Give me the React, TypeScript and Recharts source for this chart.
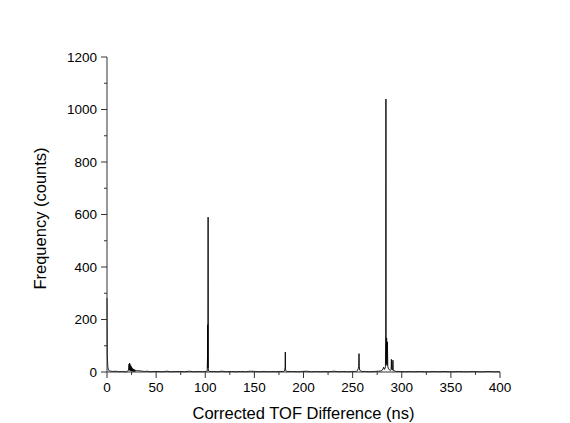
import { LineChart, Line, XAxis, YAxis, Label } from 'recharts'

// histogram of corrected TOF differences (ns, counts)
const zeroTof = [0, 0.3, 0.8, 1.5, 2.5, 4, 6, 9, 12, 15, 18]
const zeroCounts = [282, 70, 20, 8, 4, 3, 2, 3, 1, 2, 1]

const bumpTof = [20, 21, 22, 22.4, 22.7, 23, 23.3, 23.6, 23.9, 24.2, 24.5, 24.8, 25.1, 25.4, 25.8, 26.2, 26.6, 27, 27.5, 28, 28.5, 29, 30, 31, 32, 34, 36, 38, 41, 44, 47]
const bumpCounts = [1, 3, 8, 30, 6, 34, 10, 28, 5, 24, 4, 20, 3, 16, 2, 13, 2, 11, 1, 9, 2, 7, 6, 5, 5, 4, 3, 2, 3, 1, 2]

const noiseTof = [52, 56, 61, 65, 70, 74, 79, 84, 88, 93, 97, 99]
const noiseCounts = [2, 1, 3, 1, 2, 2, 1, 3, 1, 2, 1, 2]

const peak103Tof = [101, 102, 102.3, 102.5, 102.7, 102.9, 103.1, 103.4, 104]
const peak103Counts = [2, 3, 60, 180, 15, 590, 12, 4, 2]

const noise2Tof = [108, 112, 117, 122, 127, 131, 136, 141, 146, 151, 155, 160, 165, 169, 173, 176]
const noise2Counts = [2, 1, 3, 1, 2, 1, 2, 1, 3, 2, 1, 2, 1, 2, 1, 2]

const peak181Tof = [179.5, 180.5, 181, 181.3, 181.5, 181.7, 182, 183]
const peak181Counts = [2, 4, 10, 18, 76, 12, 5, 2]

const midNoiseTof = [189, 194, 198, 203, 208, 212, 217, 222, 226, 231, 236, 240, 245, 249, 252]
const midNoiseCounts = [2, 1, 2, 3, 1, 2, 1, 2, 1, 3, 1, 2, 1, 2, 2]

const peak257Tof = [254, 255, 255.8, 256.2, 256.5, 256.8, 257.2, 258, 259.5]
const peak257Counts = [3, 6, 14, 22, 70, 20, 8, 4, 2]

const peak284Tof = [263, 267, 272, 276, 279, 280.5, 281.5, 282.5, 283.4, 283.7, 283.9, 284.1, 284.6, 285, 285.4, 285.8, 286.5, 287.5, 288.5, 289.2, 289.5, 289.8, 290.7, 291, 291.3, 292, 293.5, 295]
const peak284Counts = [2, 1, 2, 3, 4, 8, 18, 10, 20, 140, 1040, 30, 130, 25, 115, 20, 12, 8, 6, 10, 48, 10, 8, 45, 8, 4, 3, 2]

const tailTof = [299, 304, 309, 313, 318, 323, 328, 333, 338, 343, 348, 353, 358, 363, 368, 373, 378, 383, 388, 393, 398, 400]
const tailCounts = [2, 1, 2, 1, 2, 1, 1, 2, 1, 2, 1, 1, 2, 1, 1, 2, 1, 1, 2, 1, 1, 1]

const xTicks = [0, 25, 50, 75, 100, 125, 150, 175, 200, 225, 250, 275, 300, 325, 350, 375, 400]
const yTicks = [0, 100, 200, 300, 400, 500, 600, 700, 800, 900, 1000, 1100, 1200]

const tofSets = [zeroTof, bumpTof, noiseTof, peak103Tof, noise2Tof, peak181Tof, midNoiseTof, peak257Tof, peak284Tof, tailTof]
const countSets = [zeroCounts, bumpCounts, noiseCounts, peak103Counts, noise2Counts, peak181Counts, midNoiseCounts, peak257Counts, peak284Counts, tailCounts]

const data = tofSets
  .flatMap((xs, i) => xs.map((tof, j) => ({ tof, count: countSets[i][j] })))
  .sort((a, b) => a.tof - b.tof)

const FONT = 'Arial, "Liberation Sans", sans-serif'
const AXIS = '#333'

function XTick({ x, y, payload }: any) {
  const major = payload.value % 50 === 0
  return (
    <g>
      <line x1={x} x2={x} y1={y} y2={y + (major ? 6 : 3)} stroke={AXIS} strokeWidth={1} />
      {major && (
        <text x={x} y={y + 20} textAnchor="middle" fontSize={13.5} fontFamily={FONT} fill="#000">
          {payload.value}
        </text>
      )}
    </g>
  )
}

function YTick({ x, y, payload }: any) {
  const major = payload.value % 200 === 0
  return (
    <g>
      <line x1={x} x2={x - (major ? 6 : 3)} y1={y} y2={y} stroke={AXIS} strokeWidth={1} />
      {major && (
        <text x={x - 10} y={y} dy="0.35em" textAnchor="end" fontSize={13.5} fontFamily={FONT} fill="#000">
          {payload.value}
        </text>
      )}
    </g>
  )
}

export default function App() {
  return (
    <div style={{ position: 'absolute', left: 0, top: 0, width: 570, height: 423, background: '#fff' }}>
      <LineChart width={570} height={423} data={data} margin={{ top: 57, right: 70, bottom: 1, left: 47 }}>
        <XAxis
          dataKey="tof"
          type="number"
          domain={[0, 400]}
          ticks={xTicks}
          interval={0}
          tickSize={0}
          tickMargin={0}
          tickLine={false}
          tick={<XTick />}
          height={50}
          stroke={AXIS}
        >
          <Label
            value="Corrected TOF Difference (ns)"
            position="insideBottom"
            offset={3}
            style={{ fontSize: 16.5, fontFamily: FONT, fill: '#000' }}
          />
        </XAxis>
        <YAxis
          type="number"
          domain={[0, 1200]}
          ticks={yTicks}
          interval={0}
          tickSize={0}
          tickMargin={0}
          tickLine={false}
          tick={<YTick />}
          width={60}
          stroke={AXIS}
        >
          <Label
            value="Frequency (counts)"
            angle={-90}
            position="insideLeft"
            offset={-7}
            dy={4}
            style={{ fontSize: 16.5, fontFamily: FONT, fill: '#000', textAnchor: 'middle' }}
          />
        </YAxis>
        <Line
          type="linear"
          dataKey="count"
          stroke="#000"
          strokeWidth={0.9}
          dot={false}
          isAnimationActive={false}
        />
      </LineChart>
    </div>
  )
}
